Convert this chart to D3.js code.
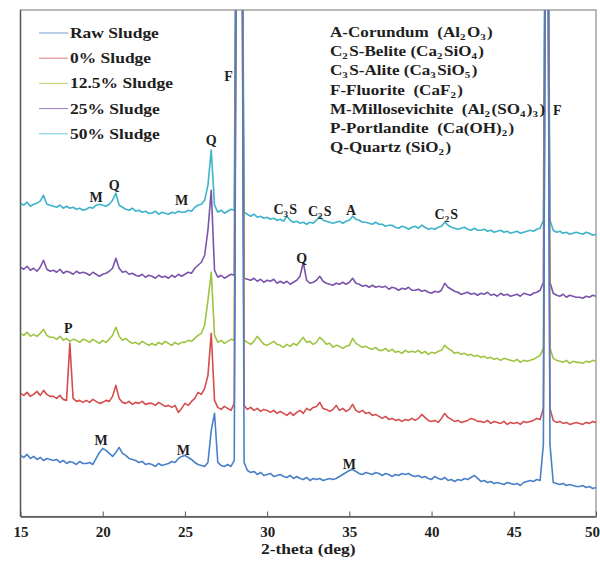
<!DOCTYPE html>
<html>
<head>
<meta charset="utf-8">
<script src="https://cdn.jsdelivr.net/npm/d3@7"></script>
<style>
  body { margin: 0; background: #fff; }
  text { font-family: "Liberation Serif", "Times New Roman", serif; font-weight: bold; fill: #1e1e1e; }
</style>
</head>
<body>
<svg id="chart" width="600" height="561"></svg>
<script>
// scan grid: 15 - 50 deg, 0.2 deg step (176 points)
const scanStart = 15;
const scanStep = 0.2;

const seriesNames = ['Raw Sludge', '0% Sludge', '12.5% Sludge', '25% Sludge', '50% Sludge'];
const seriesColors = ['#4a80c8', '#d44c4c', '#9cc440', '#7a54aa', '#3db4ca'];

// intensities (a.u., stacked offsets as plotted), rows of 2 deg
const rawSludge = [
  61, 59, 62, 58, 60, 57, 59, 56, 58, 57,
  56, 57, 54, 56, 53, 55, 54, 52, 55, 53,
  53, 54, 52, 58, 64, 68, 66, 63, 60, 64,
  69, 63, 61, 58, 57, 56, 54, 55, 52, 53,
  52, 50, 53, 51, 52, 53, 55, 54, 58, 60,
  61, 59, 57, 54, 52, 51, 50, 54, 86, 103,
  54, 51, 50, 52, 50, 56, 900, 900, 54, 46,
  44, 45, 42, 44, 41, 42, 43, 40, 41, 42,
  40, 39, 41, 38, 40, 38, 37, 39, 36, 38,
  37, 38, 36, 37, 38, 37, 38, 40, 42, 44,
  46, 47, 45, 43, 42, 44, 43, 42, 44, 43,
  41, 43, 42, 40, 42, 41, 43, 42, 43, 41,
  40, 41, 39, 40, 38, 37, 40, 38, 37, 39,
  36, 37, 35, 37, 36, 38, 37, 39, 41, 38,
  35, 36, 34, 35, 33, 34, 33, 32, 34, 33,
  32, 33, 31, 34, 35, 36, 35, 37, 36, 72,
  900, 72, 34, 33, 32, 33, 31, 32, 31, 30,
  30, 31, 29, 30, 28, 29
];

const sludge0 = [
  123, 121, 124, 120, 122, 125, 121, 126, 122, 120,
  120, 118, 121, 117, 116, 173, 118, 115, 116, 114,
  116, 114, 117, 115, 113, 114, 116, 115, 120, 131,
  118, 114, 113, 115, 112, 114, 113, 115, 112, 113,
  113, 111, 114, 112, 110, 111, 109, 111, 104, 108,
  113, 111, 115, 118, 124, 122, 128, 141, 183, 116,
  109, 107, 110, 108, 106, 113, 900, 900, 111, 107,
  109, 106, 108, 105, 107, 106, 104, 106, 103, 105,
  103, 101, 104, 101, 104, 106, 103, 108, 106, 109,
  110, 114, 108, 107, 105, 107, 111, 106, 108, 105,
  107, 112, 106, 104, 106, 103, 104, 101, 102, 100,
  98, 100, 97, 98, 96, 97, 95, 97, 96, 98,
  96, 98, 102, 99, 96, 95, 96, 94, 98, 103,
  99, 97, 95, 96, 94, 95, 96, 98, 97, 95,
  95, 94, 96, 93, 95, 94, 93, 95, 92, 94,
  93, 94, 92, 95, 94, 95, 96, 98, 97, 108,
  900, 108, 96, 94, 95, 93, 94, 92, 93, 94,
  93, 92, 94, 93, 95, 94
];

const sludge125 = [
  183, 181, 184, 180, 182, 180, 183, 187, 181, 179,
  179, 177, 180, 176, 178, 175, 177, 176, 174, 177,
  176, 174, 177, 175, 173, 176, 174, 177, 181, 189,
  180, 176, 178, 175, 173, 174, 172, 175, 173, 171,
  173, 171, 174, 172, 175, 173, 171, 174, 172, 174,
  174, 176, 175, 178, 181, 183, 191, 216, 244, 181,
  174, 176, 173, 175, 177, 176, 900, 900, 176, 174,
  172, 175, 180, 176, 172, 171, 173, 175, 172, 171,
  169, 172, 170, 173, 171, 175, 179, 174, 175, 172,
  174, 179, 176, 172, 173, 169, 171, 170, 168, 170,
  171, 178, 173, 171, 169, 170, 168, 167, 169, 166,
  166, 168, 165, 167, 164, 165, 163, 166, 164, 165,
  164, 166, 163, 165, 162, 164, 163, 165, 166, 171,
  168, 166, 163, 164, 162, 163, 161, 162, 160, 161,
  159, 160, 158, 159, 157, 158, 156, 158, 157, 156,
  155, 157, 154, 156, 155, 156, 157, 159, 161, 168,
  900, 168, 158, 156, 155, 154, 156, 153, 155, 154,
  154, 153, 155, 154, 156, 155
];

const sludge25 = [
  249, 247, 250, 246, 248, 245, 249, 256, 247, 245,
  246, 244, 247, 243, 245, 244, 242, 245, 243, 244,
  243, 241, 244, 242, 240, 242, 243, 245, 248, 258,
  248, 244, 245, 242, 243, 241, 240, 242, 239, 241,
  240, 238, 241, 239, 240, 238, 241, 239, 242, 240,
  242, 244, 243, 248, 251, 254, 261, 286, 326, 246,
  239, 241, 238, 240, 242, 241, 900, 900, 238, 237,
  236, 238, 235, 237, 234, 236, 235, 237, 233, 235,
  233, 235, 232, 234, 236, 240, 254, 236, 233, 234,
  236, 240, 235, 233, 232, 231, 233, 232, 234, 232,
  234, 238, 233, 232, 230, 231, 229, 231, 229, 230,
  229, 230, 227, 229, 228, 226, 228, 227, 229, 226,
  226, 227, 225, 226, 224, 223, 225, 224, 226, 233,
  229, 227, 225, 224, 222, 223, 224, 222, 223, 221,
  223, 222, 224, 221, 222, 220, 223, 221, 222, 220,
  221, 222, 220, 223, 222, 221, 223, 224, 226, 234,
  900, 234, 223, 221, 220, 222, 219, 221, 220, 219,
  219, 218, 220, 219, 221, 220
];

const sludge50 = [
  313, 311, 314, 310, 312, 313, 315, 321, 312, 311,
  310, 309, 311, 308, 310, 308, 309, 307, 308, 306,
  307, 309, 308, 311, 312, 311, 310, 312, 316, 323,
  311, 309, 307, 306, 308, 305, 306, 304, 305, 303,
  303, 305, 302, 304, 303, 302, 304, 303, 305, 304,
  304, 306, 305, 309, 311, 312, 316, 331, 366, 311,
  304, 306, 303, 305, 307, 306, 900, 900, 304, 302,
  300, 302, 299, 300, 298, 299, 297, 298, 296, 297,
  295, 300, 296, 294, 295, 293, 294, 292, 294, 293,
  296, 300, 296, 295, 294, 293, 294, 295, 293, 295,
  296, 300, 297, 296, 294, 294, 293, 292, 294, 292,
  292, 290, 291, 291, 289, 288, 290, 289, 287, 289,
  290, 288, 291, 289, 287, 288, 287, 289, 290, 294,
  291, 289, 288, 287, 288, 289, 287, 286, 288, 286,
  286, 287, 285, 286, 284, 285, 286, 284, 285, 283,
  284, 285, 283, 284, 285, 286, 285, 287, 288, 296,
  900, 296, 286, 284, 285, 283, 284, 282, 283, 284,
  283, 282, 284, 283, 281, 282
];

const xTicks = [15, 20, 25, 30, 35, 40, 45, 50];

// phase key, "_" marks a subscript digit
const phaseKey = [
  'A-Corundum  (Al_2O_3)',
  'C_2S-Belite (Ca_2SiO_4)',
  'C_3S-Alite (Ca_3SiO_5)',
  'F-Fluorite  (CaF_2)',
  'M-Millosevichite  (Al_2(SO_4)_3)',
  'P-Portlandite  (Ca(OH)_2)',
  'Q-Quartz (SiO_2)'
];

// peak labels: [2-theta, intensity, label]
const peakLabels = [
  [27.65, 440, 'F'], [47.65, 406, 'F'],
  [26.6, 376, 'Q'], [19.6, 319, 'M'], [20.7, 331, 'Q'], [24.8, 316, 'M'],
  [31.1, 307, 'C_3S'], [33.2, 305, 'C_2S'], [35.1, 306, 'A'], [40.9, 302, 'C_2S'],
  [32.1, 258, 'Q'], [17.9, 188, 'P'],
  [19.9, 76, 'M'], [24.9, 66, 'M'], [35.0, 52, 'M']
];

const series = [rawSludge, sludge0, sludge125, sludge25, sludge50].map((vals, k) => ({
  name: seriesNames[k],
  color: seriesColors[k],
  points: vals.map((v, i) => ({ t: scanStart + i * scanStep, v: v }))
}));

const margin = { top: 10, right: 4, bottom: 44.5, left: 20.5 };
const width = 600 - margin.left - margin.right;
const height = 561 - margin.top - margin.bottom;

const svg = d3.select('#chart');
const g = svg.append('g').attr('transform', 'translate(' + margin.left + ',' + margin.top + ')');

const xScale = d3.scaleLinear().domain([15, 50]).range([0, width]);
const yScale = d3.scaleLinear().domain([0, 506]).range([height, 0]);

g.append('clipPath').attr('id', 'plotClip')
  .append('rect').attr('width', width).attr('height', height);

// frame
g.append('rect')
  .attr('width', width).attr('height', height)
  .attr('fill', 'none').attr('stroke', '#8c8c8c').attr('stroke-width', 1.2);
g.append('line').attr('x1', 0).attr('x2', 0).attr('y1', 0).attr('y2', height)
  .attr('stroke', '#555').attr('stroke-width', 1.4);

const line = d3.line().x((d) => xScale(d.t)).y((d) => yScale(d.v));

// raw sludge drawn last so it sits on top
g.append('g').attr('clip-path', 'url(#plotClip)')
  .selectAll('path')
  .data(series.slice().reverse())
  .enter().append('path')
  .attr('d', (d) => line(d.points))
  .attr('fill', 'none')
  .attr('stroke', (d) => d.color)
  .attr('stroke-width', 1.6)
  .attr('stroke-linejoin', 'round');

// x axis, ticks pointing inwards
const xAxis = g.append('g')
  .attr('transform', 'translate(0,' + height + ')')
  .call(d3.axisBottom(xScale).tickValues(xTicks).tickSizeInner(-5).tickSizeOuter(0).tickPadding(10));
xAxis.select('.domain').attr('stroke', '#555').attr('stroke-width', 1.4);
xAxis.selectAll('.tick line').attr('stroke', '#555');
xAxis.selectAll('.tick text')
  .attr('fill', '#1e1e1e')
  .attr('dx', (d) => d === 50 ? -4 : 0)
  .style('font-family', '"Liberation Serif", serif')
  .style('font-weight', 'bold')
  .style('font-size', '15px');

svg.append('text')
  .attr('transform', 'translate(' + (margin.left + width / 2) + ',554) scale(1.25,1)')
  .attr('text-anchor', 'middle')
  .style('font-size', '14px')
  .text('2-theta (deg)');

// write a label where "_d" becomes a subscript
function richText (sel, str, subSize) {
  const parts = str.split(/(_\d)/).filter((p) => p.length);
  parts.forEach((p) => {
    if (p[0] === '_') {
      sel.append('tspan').attr('dy', 3).style('font-size', subSize + 'px').text(p.slice(1));
      sel.append('tspan').attr('dy', -3).text('\u200a');
    } else {
      sel.append('tspan').text(p);
    }
  });
}

// legend
const legend = svg.append('g');
series.forEach((s, i) => {
  const cy = 33 + i * 25.2;
  legend.append('line')
    .attr('x1', 39).attr('x2', 68).attr('y1', cy).attr('y2', cy)
    .attr('stroke', s.color).attr('stroke-width', 1).attr('opacity', 0.75);
  legend.append('text')
    .attr('transform', 'translate(70,' + (cy + 5) + ') scale(1.25,1)')
    .style('font-size', '14px')
    .text(s.name);
});

// phase key
phaseKey.forEach((k, i) => {
  const t = svg.append('text')
    .attr('transform', 'translate(330,' + (37 + i * 19.2) + ') scale(1.22,1)')
    .style('font-size', '14px')
    .attr('xml:space', 'preserve');
  richText(t, k, 9);
});

// peak labels
peakLabels.forEach((p) => {
  const t = g.append('text')
    .attr('x', xScale(p[0]))
    .attr('y', yScale(p[1]) + 5)
    .attr('text-anchor', 'middle')
    .style('font-size', '14px');
  richText(t, p[2], 9);
});
</script>
</body>
</html>
